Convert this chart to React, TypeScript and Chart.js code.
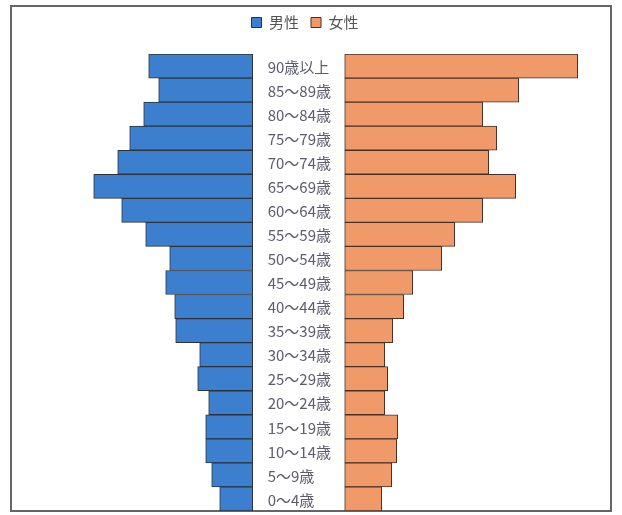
import { useEffect, useRef } from 'react'
import { Chart, registerables } from 'chart.js'

Chart.register(...registerables)

// age groups, top row first
const AGE_GROUPS = [
  '90歳以上', '85～89歳', '80～84歳', '75～79歳', '70～74歳', '65～69歳', '60～64歳',
  '55～59歳', '50～54歳', '45～49歳', '40～44歳', '35～39歳', '30～34歳', '25～29歳',
  '20～24歳', '15～19歳', '10～14歳', '5～9歳', '0～4歳',
]
const MALE = [104, 94, 109, 123, 135, 159, 131, 107, 83, 87, 78, 77, 53, 55, 44, 47, 47, 41, 33]
const FEMALE = [233, 174, 138, 152, 144, 171, 138, 110, 97, 68, 59, 48, 40, 43, 40, 53, 52, 47, 37]
const SERIES_NAMES = ['男性', '女性']

// half of the empty band in the middle that holds the age labels
const GAP = 46

const FONT = '"Noto Sans CJK JP", "Noto Sans", sans-serif'

const centerLabels = {
  id: 'centerLabels',
  afterDatasetsDraw(chart: any) {
    const { ctx, scales } = chart
    const x = scales.x.getPixelForValue(-GAP) + 15
    ctx.save()
    ctx.font = `15px ${FONT}`
    ctx.fillStyle = '#5c5c6c'
    ctx.textAlign = 'left'
    ctx.textBaseline = 'middle'
    AGE_GROUPS.forEach((label, i) => {
      ctx.fillText(label, x, scales.y.getPixelForValue(i) + 1)
    })
    ctx.restore()
  },
}

function Pyramid() {
  const ref = useRef<HTMLCanvasElement>(null)
  useEffect(() => {
    if (!ref.current) return
    const chart = new Chart(ref.current, {
      type: 'bar',
      data: {
        labels: AGE_GROUPS,
        datasets: [
          {
            label: SERIES_NAMES[0],
            data: MALE.map(v => [-(GAP + v), -GAP]) as any,
            backgroundColor: '#3d7fcf',
            borderColor: '#2e3138',
            borderWidth: 1,
            borderSkipped: false,
            barPercentage: 1,
            categoryPercentage: 1,
            grouped: false,
          },
          {
            label: SERIES_NAMES[1],
            data: FEMALE.map(v => [GAP, GAP + v]) as any,
            backgroundColor: '#f09a6a',
            borderColor: '#45302a',
            borderWidth: 1,
            borderSkipped: false,
            barPercentage: 1,
            categoryPercentage: 1,
            grouped: false,
          },
        ],
      },
      options: {
        indexAxis: 'y',
        animation: false,
        responsive: true,
        maintainAspectRatio: false,
        layout: { padding: { left: 10, right: 22, top: 3, bottom: 4 } },
        scales: {
          x: { display: false, min: -288.7, max: 301.3 },
          y: { display: false },
        },
        plugins: {
          tooltip: { enabled: false },
          // empty title used as a spacer between legend and bars
          title: {
            display: true,
            text: '',
            weight: 500,
            font: { size: 1, lineHeight: 1 },
            padding: { top: 0, bottom: 13 },
          },
          legend: {
            position: 'top',
            labels: {
              boxWidth: 10,
              boxHeight: 10,
              padding: 12,
              color: '#555',
              font: { size: 15, family: FONT },
            },
          },
        },
      },
      plugins: [centerLabels],
    })
    return () => chart.destroy()
  }, [])
  return <canvas ref={ref} />
}

export default function App() {
  return (
    <div style={{ position: 'fixed', left: 0, top: 0, width: 622, height: 515, background: '#fff' }}>
      <div style={{
        position: 'absolute', left: 10, top: 5, width: 602, height: 507,
        boxSizing: 'border-box', border: '2px solid #666',
      }} />
      <div style={{ position: 'absolute', left: 0, top: 0, width: 622, height: 515 }}>
        <Pyramid />
      </div>
    </div>
  )
}
